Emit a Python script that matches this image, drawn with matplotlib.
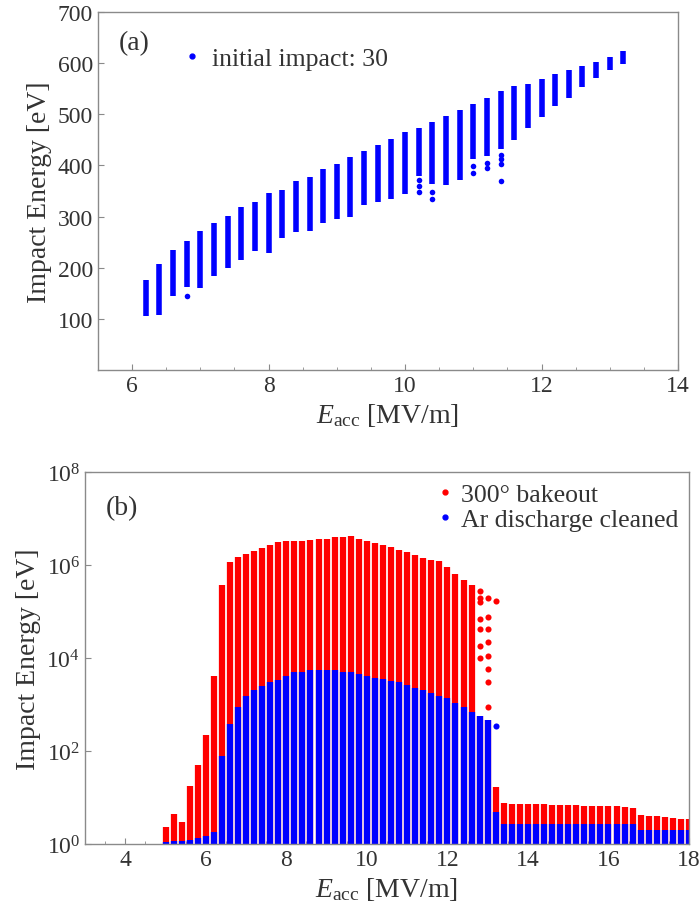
import numpy as np
import matplotlib
matplotlib.use("Agg")
import matplotlib.pyplot as plt
from matplotlib.lines import Line2D
from matplotlib.ticker import FixedLocator, MultipleLocator, NullLocator, FuncFormatter

# ─── Panel (a): impact energy spread per field level (initial impact 30) ──
EACC_A = [6.2, 6.4, 6.6, 6.8, 7.0, 7.2, 7.4, 7.6, 7.8, 8.0, 8.2, 8.4,
          8.6, 8.8, 9.0, 9.2, 9.4, 9.6, 9.8, 10.0, 10.2, 10.4, 10.6, 10.8,
          11.0, 11.2, 11.4, 11.6, 11.8, 12.0, 12.2, 12.4, 12.6, 12.8, 13.0, 13.2]
IMP_LO = [105, 107, 144, 162, 160, 183, 199, 216, 232, 228, 259, 269,
          271, 288, 296, 300, 322, 329, 335, 345, 380, 363, 361, 371,
          412, 419, 432, 449, 473, 495, 516, 532, 553, 571, 587, 598]
IMP_HI = [177, 208, 234, 253, 271, 287, 302, 318, 329, 347, 353, 369,
          378, 394, 403, 417, 429, 440, 452, 466, 474, 485, 497, 509,
          520, 532, 546, 555, 559, 569, 579, 587, 595, 602, 612, 624]
# isolated impacts below the main bands
OUT_A_X = [6.8, 10.2, 10.2, 10.2, 10.4, 10.4, 11.0, 11.0, 11.2, 11.2,
           11.4, 11.4, 11.4, 11.4]
OUT_A_Y = [145, 371, 359, 349, 348, 335, 399, 386, 405, 396,
           420, 412, 402, 370]

# ─── Panel (b): bakeout vs. Ar discharge cleaned ──────────────────────────
EACC_B = [5.0, 5.2, 5.4, 5.6, 5.8, 6.0, 6.2, 6.4, 6.6, 6.8, 7.0, 7.2,
          7.4, 7.6, 7.8, 8.0, 8.2, 8.4, 8.6, 8.8, 9.0, 9.2, 9.4, 9.6,
          9.8, 10.0, 10.2, 10.4, 10.6, 10.8, 11.0, 11.2, 11.4, 11.6, 11.8, 12.0,
          12.2, 12.4, 12.6, 12.8, 13.0, 13.2, 13.4, 13.6, 13.8, 14.0, 14.2, 14.4,
          14.6, 14.8, 15.0, 15.2, 15.4, 15.6, 15.8, 16.0, 16.2, 16.4, 16.6, 16.8,
          17.0, 17.2, 17.4, 17.6, 17.8, 18.0]
BAKE_HI = [2.3, 4.5, 3.0, 18, 50, 220, 4.2e3, 3.7e5, 1.15e6, 1.5e6, 1.75e6, 2.0e6,
           2.3e6, 2.7e6, 3.1e6, 3.3e6, 3.3e6, 3.3e6, 3.5e6, 3.55e6, 3.7e6, 4.0e6, 4.0e6, 4.2e6,
           3.6e6, 3.3e6, 2.95e6, 2.7e6, 2.4e6, 2.1e6, 1.95e6, 1.65e6, 1.4e6, 1.3e6, 1.2e6, 8.9e5,
           6.5e5, 4.8e5, 3.7e5, 560, 470, 16.6, 7.6, 7.4, 7.2, 7.2, 7.1, 7.1,
           6.9, 6.9, 6.8, 6.8, 6.6, 6.6, 6.6, 6.5, 6.5, 6.3, 6.0, 4.2,
           4.1, 4.0, 3.9, 3.7, 3.5, 3.5]
ARC_HI = [1.12, 1.17, 1.17, 1.23, 1.32, 1.5, 1.8, 78, 380, 870, 1550, 2100,
          2500, 3000, 3400, 4200, 5100, 5100, 5400, 5400, 5400, 5400, 5100, 4900,
          4600, 4200, 3800, 3500, 3200, 3000, 2600, 2300, 2100, 1800, 1550, 1400,
          1100, 870, 680, 560, 470, 4.8, 2.7, 2.7, 2.7, 2.7, 2.7, 2.7,
          2.7, 2.7, 2.7, 2.7, 2.7, 2.7, 2.7, 2.7, 2.7, 2.7, 2.7, 2.0,
          2.0, 2.0, 2.0, 2.0, 2.0, 2.0]
# scattered high-energy impacts near the cut-off
BAKE_DOT_X = [12.8, 12.8, 12.8, 12.8, 12.8, 12.8, 12.8,
              13.0, 13.0, 13.0, 13.0, 13.0, 13.0, 13.0, 13.0, 13.2]
BAKE_DOT_Y = [2.8e5, 2.0e5, 1.6e5, 6.9e4, 4.2e4, 1.8e4, 1.0e4,
              2.0e5, 7.6e4, 4.2e4, 2.2e4, 1.1e4, 5.8e3, 3.0e3, 870, 1.7e5]
ARC_DOT_X = [13.2]
ARC_DOT_Y = [350]

RED = "#ff0000"
BLUE = "#0000ff"
FRAME = "#8a8a8a"
TXT = "#333333"

plt.rcParams["font.family"] = "Liberation Serif"
plt.rcParams["mathtext.fontset"] = "custom"
plt.rcParams["mathtext.rm"] = "Liberation Serif"
plt.rcParams["mathtext.it"] = "Liberation Serif:italic"


def style_frame(ax):
    for s in ax.spines.values():
        s.set_color(FRAME)
        s.set_linewidth(1.0)
    ax.tick_params(which="both", direction="in", colors=FRAME,
                   labelcolor=TXT, labelsize=17, top=False, right=False)
    ax.tick_params(which="major", length=4, width=0.8)
    ax.tick_params(which="minor", length=2.5, width=0.6)


fig = plt.figure(figsize=(6.99, 9.2), dpi=100)
ax1 = fig.add_axes([0.1402, 0.5967, 0.8298, 0.3891])
ax2 = fig.add_axes([0.1216, 0.0815, 0.8641, 0.4043])

# (a)
ax1.vlines(EACC_A, IMP_LO, IMP_HI, colors=BLUE, linewidth=4.0)
ax1.plot(OUT_A_X, OUT_A_Y, "o", ms=4.0, color=BLUE, mec="none")
ax1.set_xlim(5.5, 14)
ax1.set_ylim(0, 700)
ax1.xaxis.set_major_locator(FixedLocator([6, 8, 10, 12, 14]))
ax1.xaxis.set_minor_locator(MultipleLocator(0.5))
ax1.yaxis.set_major_locator(FixedLocator([100, 200, 300, 400, 500, 600, 700]))
ax1.yaxis.set_minor_locator(NullLocator())
style_frame(ax1)
ax1.set_xlabel(r"$E_{\rm acc}$ [MV/m]", fontsize=20, color=TXT)
ax1.set_ylabel("Impact Energy [eV]", fontsize=20, color=TXT)
ax1.text(0.035, 0.915, "(a)", transform=ax1.transAxes, fontsize=20,
         color=TXT, va="center")
h = [Line2D([], [], marker="o", ls="none", color=BLUE, ms=3.5)]
ax1.legend(h, ["initial impact: 30"], loc="center left",
           bbox_to_anchor=(0.149, 0.869), frameon=False, fontsize=18.5,
           borderpad=0, borderaxespad=0, handlelength=0.6,
           handletextpad=0.48, labelcolor=TXT)

# (b)
ax2.set_yscale("log")
ax2.vlines(EACC_B, 1, BAKE_HI, colors=RED, linewidth=4.5)
ax2.plot(BAKE_DOT_X, BAKE_DOT_Y, "o", ms=4.4, color=RED, mec="none")
ax2.vlines(EACC_B, 1, ARC_HI, colors=BLUE, linewidth=4.5)
ax2.plot(ARC_DOT_X, ARC_DOT_Y, "o", ms=4.4, color=BLUE, mec="none")
ax2.set_xlim(3, 18)
ax2.set_ylim(1, 1e8)
ax2.xaxis.set_major_locator(FixedLocator([4, 6, 8, 10, 12, 14, 16, 18]))
ax2.xaxis.set_minor_locator(MultipleLocator(0.5))
ax2.yaxis.set_major_locator(FixedLocator([1, 1e2, 1e4, 1e6, 1e8]))
ax2.yaxis.set_minor_locator(NullLocator())
ax2.yaxis.set_major_formatter(
    FuncFormatter(lambda v, p: rf"$10^{{{int(round(np.log10(v)))}}}$"))
style_frame(ax2)
ax2.set_xlabel(r"$E_{\rm acc}$ [MV/m]", fontsize=20, color=TXT)
ax2.set_ylabel("Impact Energy [eV]", fontsize=20, color=TXT)
ax2.text(0.035, 0.905, "(b)", transform=ax2.transAxes, fontsize=20,
         color=TXT, va="center")
h = [Line2D([], [], marker="o", ls="none", color=RED, ms=3.5),
     Line2D([], [], marker="o", ls="none", color=BLUE, ms=3.5)]
ax2.legend(h, ["300\u00b0 bakeout", "Ar discharge cleaned"], loc="center left",
           bbox_to_anchor=(0.583, 0.906), frameon=False, fontsize=18.5,
           borderpad=0, borderaxespad=0, handlelength=0.6,
           handletextpad=0.32, labelspacing=0.05, labelcolor=TXT)

fig.savefig("out.png", dpi=100)
